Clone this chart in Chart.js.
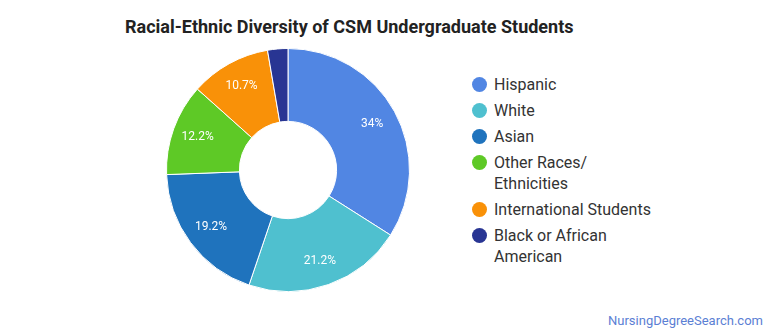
<!DOCTYPE html>
<html><head><meta charset="utf-8">
<script src="https://cdn.jsdelivr.net/npm/chart.js@4/dist/chart.umd.min.js"></script>
<style>
html,body{margin:0;padding:0;background:#fff;}
body{width:770px;height:335px;position:relative;overflow:hidden;font-family:Roboto,"Noto Sans",sans-serif;}
#title{position:absolute;left:125px;top:16px;font-size:18px;font-weight:bold;color:#222;white-space:nowrap;}
#wrap{position:absolute;left:164px;top:46px;width:248px;height:248px;}
#legend{position:absolute;left:470px;top:74px;font-size:16px;color:#333;}
.item{position:relative;padding-left:24px;line-height:21px;margin-bottom:5px;}
.dot{position:absolute;left:2px;top:3px;width:15px;height:15px;border-radius:50%;}
#foot{position:absolute;right:7px;top:313px;font-size:13px;color:#5b80d4;}
</style></head><body>
<div id="title">Racial-Ethnic Diversity of CSM Undergraduate Students</div>
<div id="wrap"><canvas id="c"></canvas></div>
<div id="legend"></div>
<div id="foot">NursingDegreeSearch.com</div>
<script>
const categories = ["Hispanic","White","Asian","Other Races/ Ethnicities","International Students","Black or African American"];
const legendLines = [["Hispanic"],["White"],["Asian"],["Other Races/","Ethnicities"],["International Students"],["Black or African","American"]];
const values = [34, 21.2, 19.2, 12.2, 10.7, 2.7];
const valueLabels = ["34%","21.2%","19.2%","12.2%","10.7%",""];
const colors = ["#5186e3","#4fc0cf","#1f73bd","#5ec926","#f99108","#283593"];

const lg = document.getElementById('legend');
legendLines.forEach((lines,i)=>{
  const d=document.createElement('div');d.className='item';
  d.innerHTML='<span class="dot" style="background:'+colors[i]+'"></span>'+lines.join('<br>');
  lg.appendChild(d);
});

const labelPlugin = {
  id:'sliceLabels',
  afterDatasetsDraw(chart){
    const ctx=chart.ctx;
    const meta=chart.getDatasetMeta(0);
    ctx.save();
    ctx.font='12px Roboto, "Noto Sans", sans-serif';
    ctx.fillStyle='#fff';ctx.textAlign='center';ctx.textBaseline='middle';
    meta.data.forEach((arc,i)=>{
      const t=valueLabels[i]; if(!t) return;
      const p=arc.getProps(['x','y','startAngle','endAngle','innerRadius','outerRadius'],true);
      const a=(p.startAngle+p.endAngle)/2;
      const r=p.innerRadius+0.65*(p.outerRadius-p.innerRadius);
      ctx.fillText(t,p.x+Math.cos(a)*r,p.y+Math.sin(a)*r);
    });
    ctx.restore();
  }
};

new Chart(document.getElementById('c'),{
  type:'doughnut',
  data:{labels:categories,datasets:[{data:values,backgroundColor:colors,borderColor:'#fff',borderWidth:1}]},
  options:{
    responsive:true,maintainAspectRatio:false,animation:false,
    cutout:'40%',
    layout:{padding:2},
    plugins:{legend:{display:false},tooltip:{enabled:false},title:{display:false}}
  },
  plugins:[labelPlugin]
});
</script>
</body></html>
